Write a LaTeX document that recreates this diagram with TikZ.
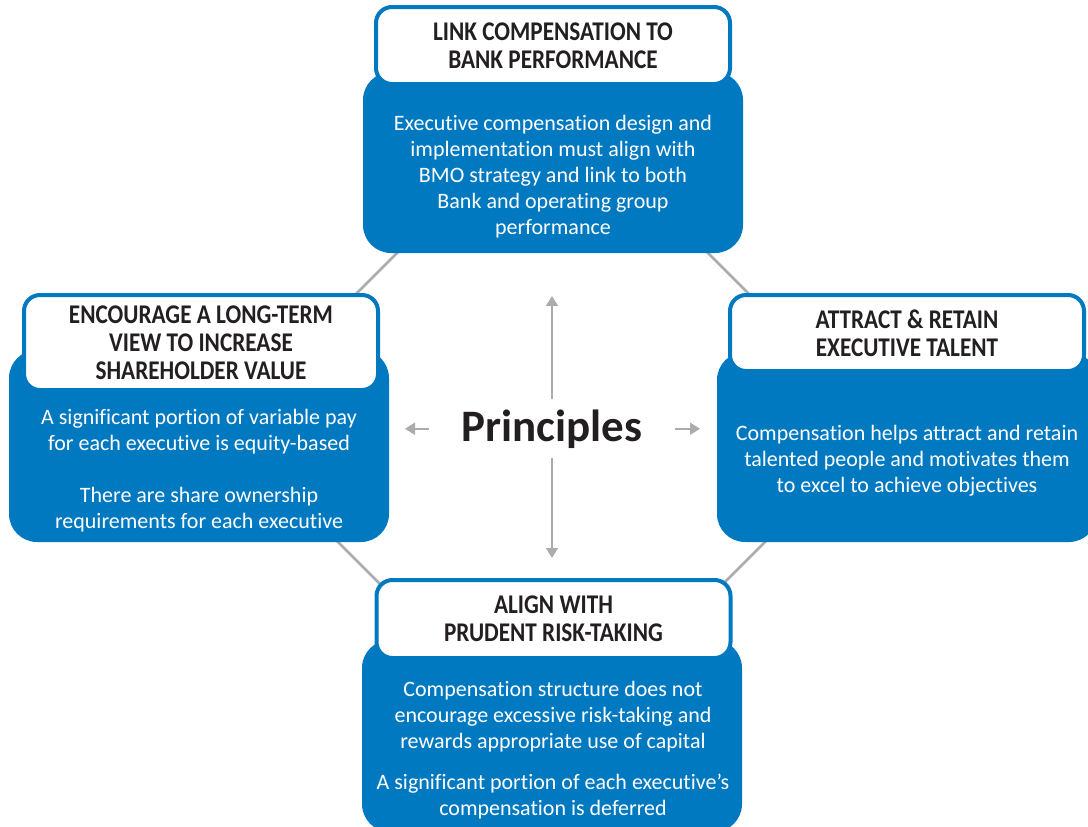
\documentclass[tikz,border=0pt]{standalone}
\usepackage{fontspec}
\setmainfont{Carlito}[Ligatures=NoCommon]
\newfontfamily\headfont[FakeStretch=0.86]{Carlito}
\usetikzlibrary{arrows.meta}
\definecolor{bmoblue}{RGB}{0,121,193}
\definecolor{inkgray}{RGB}{35,31,32}
\definecolor{linegray}{RGB}{170,172,175}
\tikzstyle{arrow} = [line width=2pt, draw=linegray, -{Triangle[width=12pt,length=10pt,fill=linegray]}]
\tikzstyle{edge} = [line width=2.5pt, draw=linegray]
\tikzstyle{panel} = [rectangle, fill=bmoblue, rounded corners=28pt, minimum width=380pt, inner sep=0pt]
\tikzstyle{head} = [rectangle, draw=bmoblue, line width=4pt, fill=white, rounded corners=16pt,
minimum width=354pt, align=center, text=inkgray, font=\headfont\bfseries\fontsize{27}{28}\selectfont]
\tikzstyle{blurb} = [align=center, text=white, font=\fontsize{22}{26}\selectfont]

\begin{document}
\begin{tikzpicture}[x=1pt, y=-1pt]
    \useasboundingbox (0,0) rectangle (1088,827);
    \clip (0,0) rectangle (1088,827);

    % Octagon edges, drawn first so the panels cover their ends
    \coordinate (nw1) at (410,240);  \coordinate (nw2) at (340,310);
    \coordinate (ne1) at (695,240);  \coordinate (ne2) at (765,310);
    \coordinate (sw1) at (323,527);  \coordinate (sw2) at (393,597);
    \coordinate (se1) at (780,527);  \coordinate (se2) at (710,597);
    \draw[edge] (nw1) -- (nw2);
    \draw[edge] (ne1) -- (ne2);
    \draw[edge] (sw1) -- (sw2);
    \draw[edge] (se1) -- (se2);

    % Panels
    \node[panel, minimum height=181pt] (linkbox)    at (553,162.5) {};
    \node[panel, minimum height=192pt] (viewbox)    at (199,446)   {};
    \node[panel, minimum height=190pt] (talentbox)  at (907,447)   {};
    \node[panel, minimum height=192pt] (riskbox)    at (552,736)   {};

    % Headings
    \node[head, minimum height=77pt] (linkhead)   at (553,45.5)  {LINK COMPENSATION TO\\ BANK PERFORMANCE};
    \node[head, minimum height=95pt] (viewhead)   at (201,342.5) {ENCOURAGE A LONG-TERM\\ VIEW TO INCREASE\\ SHAREHOLDER VALUE};
    \node[head, minimum height=76pt] (talenthead) at (907,333)   {ATTRACT \& RETAIN\\ EXECUTIVE TALENT};
    \node[head, minimum height=78pt] (riskhead)   at (553.5,619) {ALIGN WITH\\ PRUDENT RISK-TAKING};

    % Panel texts
    \node[blurb] (linktext) at (553,177) {Executive compensation design and\\ implementation must align with\\
        BMO strategy and link to both\\ Bank and operating group\\ performance};
    \node[blurb] (viewtext) at (199,471) {A significant portion of variable pay\\ for each executive is equity-based\\[26pt]
        There are share ownership\\ requirements for each executive};
    \node[blurb] (talenttext) at (907,460.5) {Compensation helps attract and retain\\ talented people and motivates them\\
        to excel to achieve objectives};
    \node[blurb] (risktext) at (553,750) {Compensation structure does not\\ encourage excessive risk-taking and\\
        rewards appropriate use of capital\\[15pt] A significant portion of each executive’s\\ compensation is deferred};

    % Centre
    \node[text=inkgray, inner xsep=32pt, inner ysep=10pt, anchor=base,
        font=\bfseries\fontsize{45}{50}\selectfont] (principles) at (552,441) {Principles};
    \coordinate (uptip)    at (552,296);
    \coordinate (downtip)  at (552,558);
    \coordinate (lefttip)  at (405,427);
    \coordinate (righttip) at (700,427);

    % Arrows
    \draw[arrow] (principles.north) -- (uptip);
    \draw[arrow] (principles.south) -- (downtip);
    \draw[arrow] (principles.west)  -- (principles.west -| lefttip);
    \draw[arrow] (principles.east)  -- (principles.east -| righttip);

\end{tikzpicture}
\end{document}
